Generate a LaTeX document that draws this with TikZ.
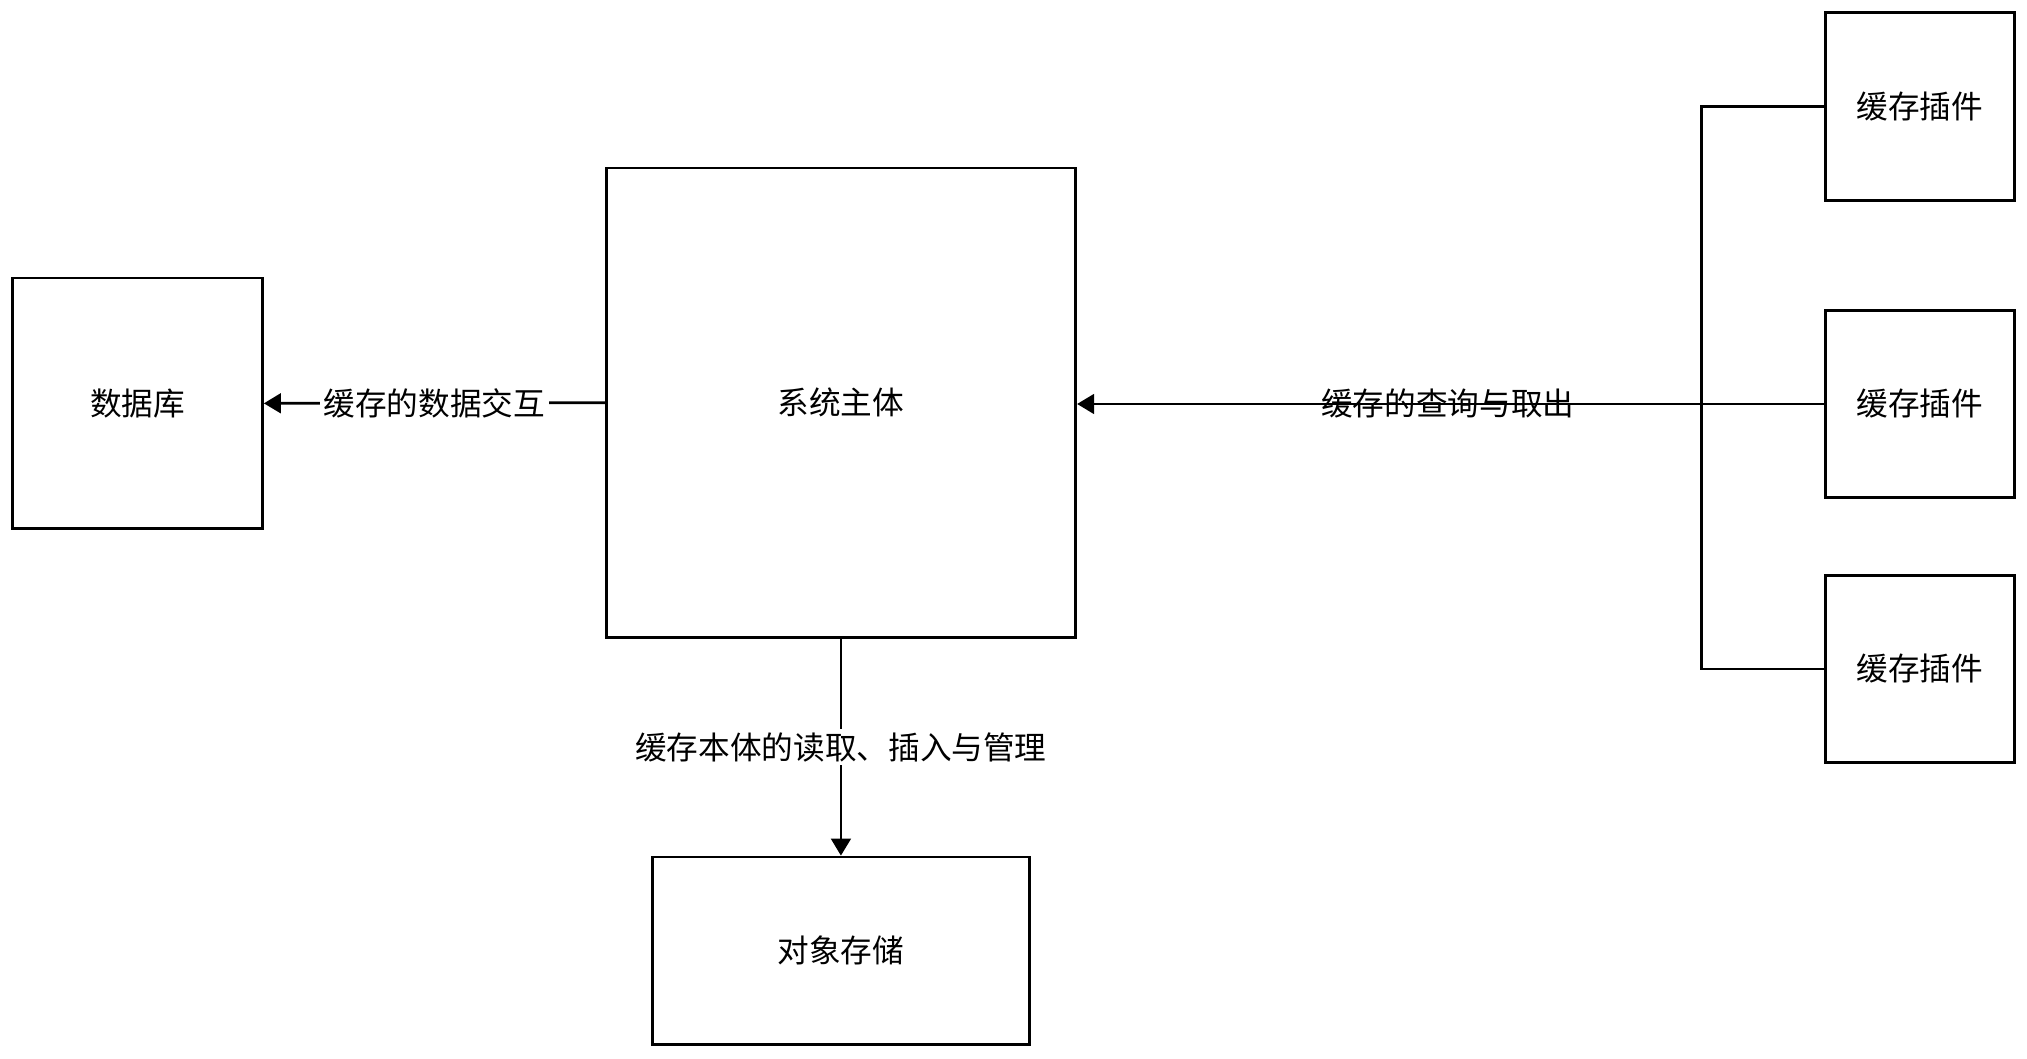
\documentclass[tikz,border=0pt]{standalone}
\usepackage{fontspec}
\setmainfont{Noto Sans CJK SC}
\usetikzlibrary{arrows.meta, positioning}
\begin{document}
\begin{tikzpicture}[
            x=0.01293cm, y=-0.01293cm,
            >=Triangle,
            box/.style={rectangle, draw=black, thick, inner sep=0pt, font=\fontsize{9}{11}\selectfont},
            label/.style={fill=white, inner sep=1pt, font=\fontsize{9}{11}\selectfont}
        ]
            \useasboundingbox (0,0) rectangle (1568,819);
            \node (db) [box, minimum width=2.495cm, minimum height=2.508cm] at (106.5,312) {数据库};
            \node (core) [box, minimum width=4.694cm, minimum height=4.694cm] at (650.5,311.5) {系统主体};
            \node (store) [box, minimum width=3.763cm, minimum height=1.875cm] at (650.5,735.5) {对象存储};
            \node (pluginA) [box, minimum width=1.888cm, minimum height=1.875cm] at (1485,82.5) {缓存插件};
            \node (pluginB) [box, minimum width=1.888cm, minimum height=1.875cm] at (1485,312.5) {缓存插件};
            \node (pluginC) [box, minimum width=1.888cm, minimum height=1.875cm] at (1485,517.5) {缓存插件};
            \coordinate (busTop) at (1316,82.5);
            \coordinate (busBot) at (1316,517.5);

            \draw[->, thick] (core.west) -- node[label]{缓存的数据交互} (db.east);
            \draw[->, thick] (core.south) -- node[label, pos=0.5]{缓存本体的读取、插入与管理} (store.north);
            \draw[thick] (pluginA.west) -- (busTop) -- (busBot) -- (pluginC.west);
            \draw[->, thick] (pluginB.west) -- (core.east |- pluginB.west);
            \node[font=\fontsize{9}{11}\selectfont] at (1120,312) {缓存的查询与取出};
        \end{tikzpicture}
\end{document}
